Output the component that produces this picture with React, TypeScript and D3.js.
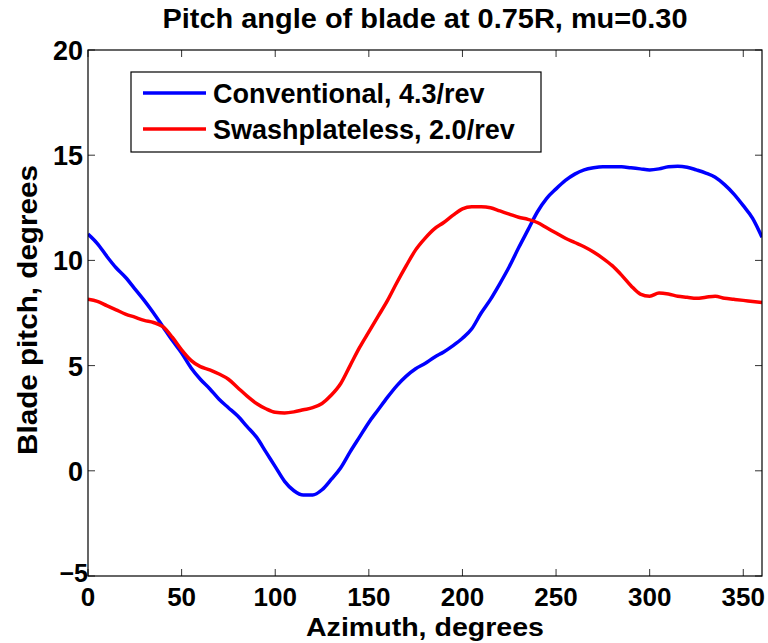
import React from "react";
import * as d3 from "d3";

// Blade azimuth (deg) at which pitch was sampled
const azimuth = [
  0, 5, 10, 15, 20, 25, 30, 35, 40, 45, 50, 55, 60, 65, 70, 75, 80, 85, 90, 95,
  100, 105, 110, 115, 120, 125, 130, 135, 140, 145, 150, 155, 160, 165, 170, 175,
  180, 185, 190, 195, 200, 205, 210, 215, 220, 225, 230, 235, 240, 245, 250, 255,
  260, 265, 270, 275, 280, 285, 290, 295, 300, 305, 310, 315, 320, 325, 330, 335,
  340, 345, 350, 355, 360,
];

// Conventional rotor, 4.3/rev content
const conventional = [
  11.25, 10.8, 10.2, 9.65, 9.2, 8.65, 8.1, 7.5, 6.85, 6.2, 5.6, 4.9, 4.35, 3.9,
  3.4, 3.0, 2.6, 2.1, 1.6, 0.9, 0.2, -0.5, -0.95, -1.15, -1.15, -0.9, -0.4, 0.15,
  0.9, 1.6, 2.3, 2.9, 3.5, 4.05, 4.5, 4.85, 5.1, 5.4, 5.65, 5.95, 6.3, 6.75, 7.5,
  8.15, 8.9, 9.7, 10.6, 11.45, 12.3, 12.95, 13.4, 13.8, 14.1, 14.3, 14.4, 14.45,
  14.45, 14.45, 14.4, 14.35, 14.3, 14.35, 14.45, 14.48, 14.43, 14.3, 14.15, 13.95,
  13.6, 13.15, 12.6, 12.0, 11.1,
];

// Swashplateless rotor, 2.0/rev content
const swashplateless = [
  8.15, 8.05, 7.85, 7.65, 7.45, 7.3, 7.15, 7.05, 6.85, 6.35, 5.75, 5.25, 4.95,
  4.8, 4.6, 4.35, 3.95, 3.55, 3.2, 2.95, 2.78, 2.75, 2.8, 2.9, 3.0, 3.2, 3.6, 4.15,
  5.0, 5.85, 6.6, 7.35, 8.1, 8.95, 9.75, 10.5, 11.05, 11.5, 11.8, 12.15, 12.45,
  12.55, 12.55, 12.5, 12.35, 12.2, 12.05, 11.95, 11.8, 11.55, 11.3, 11.05, 10.85,
  10.65, 10.4, 10.1, 9.75, 9.3, 8.8, 8.4, 8.3, 8.45, 8.4, 8.3, 8.25, 8.2, 8.25,
  8.3, 8.2, 8.15, 8.1, 8.05, 8.0,
];

const xTicks = [0, 50, 100, 150, 200, 250, 300, 350];
const yTicks = [-5, 0, 5, 10, 15, 20];

const series = [
  { name: "Conventional, 4.3/rev", color: "#0000ff", values: conventional },
  { name: "Swashplateless, 2.0/rev", color: "#ff0000", values: swashplateless },
];

const W = 768;
const H = 643;
const left = 88;
const right = 762;
const top = 50;
const bottom = 576;
const FONT = "'Liberation Sans', Arial, Helvetica, sans-serif";

export default function App() {
  const x = d3.scaleLinear().domain([0, 360]).range([left, right]);
  const y = d3.scaleLinear().domain([-5, 20]).range([bottom, top]);

  const line = (vals: number[]) =>
    d3
      .line<number>()
      .x((_, i) => x(azimuth[i]))
      .y((v) => y(v))
      .curve(d3.curveMonotoneX)(vals) ?? "";

  const tickLen = 7;

  return (
    <svg
      width={W}
      height={H}
      style={{ position: "absolute", left: 0, top: 0, background: "#fff" }}
      fontFamily={FONT}
      fontWeight="bold"
    >
      <rect x={0} y={0} width={W} height={H} fill="#fff" />

      {/* Title */}
      <text x={425} y={28} textAnchor="middle" fontSize={27} fill="#000" textLength={525} lengthAdjust="spacingAndGlyphs">
        Pitch angle of blade at 0.75R, mu=0.30
      </text>

      <defs>
        <clipPath id="plot-area">
          <rect x={left} y={top} width={right - left} height={bottom - top} />
        </clipPath>
      </defs>

      {/* Data curves */}
      <g clipPath="url(#plot-area)">
        {series.map((s) => (
          <path
            key={s.name}
            d={line(s.values)}
            fill="none"
            stroke={s.color}
            strokeWidth={3.5}
            strokeLinejoin="round"
          />
        ))}
      </g>

      {/* Ticks on all four sides, pointing inward */}
      <g stroke="#333" strokeWidth={1}>
        {xTicks.map((t) => (
          <g key={"xt" + t}>
            <line x1={x(t)} x2={x(t)} y1={bottom} y2={bottom - tickLen} />
            <line x1={x(t)} x2={x(t)} y1={top} y2={top + tickLen} />
          </g>
        ))}
        {yTicks.map((t) => (
          <g key={"yt" + t}>
            <line x1={left} x2={left + tickLen} y1={y(t)} y2={y(t)} />
            <line x1={right} x2={right - tickLen} y1={y(t)} y2={y(t)} />
          </g>
        ))}
      </g>

      {/* Axes box */}
      <rect x={left} y={top} width={right - left} height={bottom - top} fill="none" stroke="#000" strokeWidth={1.2} />

      {/* Tick labels */}
      <g fill="#000">
        {xTicks.map((t) => (
          <text key={"xl" + t} x={x(t)} y={606} textAnchor="middle" fontSize={26}>
            {t}
          </text>
        ))}
        {yTicks.map((t) => (
          <text
            key={"yl" + t}
            x={t === -5 ? 88 : 83}
            y={t === -5 ? y(t) + 6 : y(t) + 10}
            textAnchor="end"
            fontSize={t === -5 ? 25 : 27}
          >
            {t === -5 ? "\u22125" : t}
          </text>
        ))}
      </g>

      {/* Axis labels */}
      <text x={425} y={636} textAnchor="middle" fontSize={25} fill="#000" textLength={238} lengthAdjust="spacingAndGlyphs">
        Azimuth, degrees
      </text>
      <text
        transform={`translate(37,${310}) rotate(-90)`}
        textAnchor="middle"
        fontSize={28}
        fill="#000"
        textLength={290}
        lengthAdjust="spacingAndGlyphs"
      >
        Blade pitch, degrees
      </text>

      {/* Legend */}
      <g>
        <rect x={131} y={72} width={410} height={80} fill="#fff" stroke="#000" strokeWidth={1.2} />
        {series.map((s, i) => (
          <g key={"lg" + s.name}>
            <line x1={143} x2={206} y1={93 + i * 36} y2={93 + i * 36} stroke={s.color} strokeWidth={3.5} />
            <text x={213} y={103 + i * 36} fontSize={27} fill="#000">
              {s.name}
            </text>
          </g>
        ))}
      </g>
    </svg>
  );
}
